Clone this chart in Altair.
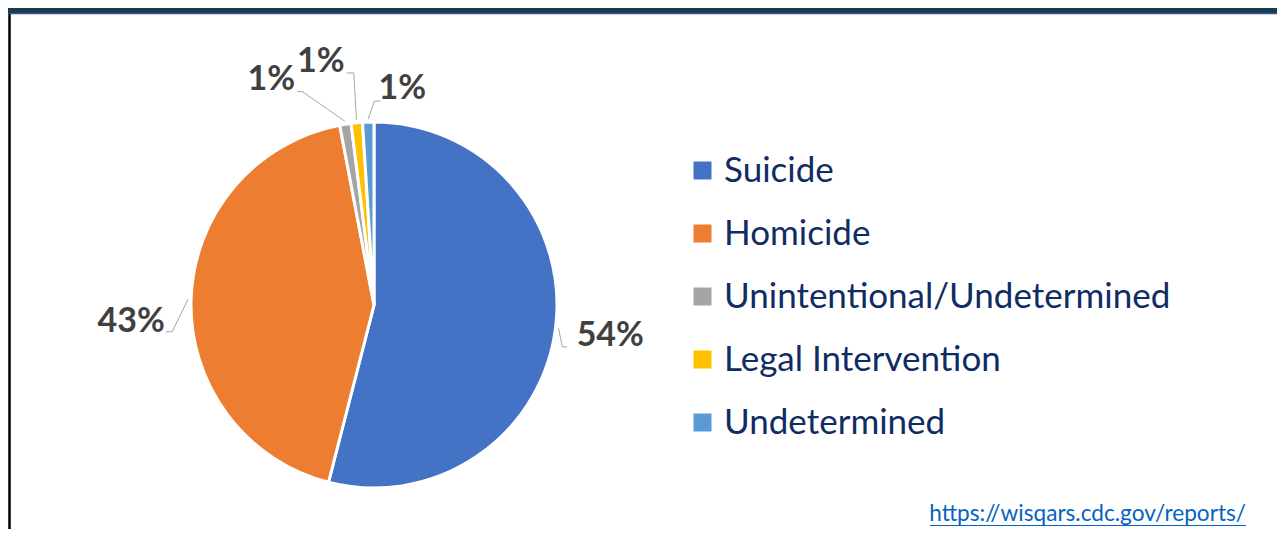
import altair as alt
import pandas as pd
import numpy as np

# ---- data ----
categories = ["Suicide", "Homicide", "Unintentional/Undetermined", "Legal Intervention", "Undetermined"]
values = [54, 43, 1, 1, 1]
labels = ["54%", "43%", "1%", "1%", "1%"]
colors = ["#4472C4", "#ED7D31", "#A5A5A5", "#FFC000", "#5B9BD5"]
source_url = ["https://wisqars.cdc.gov/reports/"]

# ---- layout ----
W, H = 1269, 521
CX, CY = 366, 297
R = 183
LABEL_R = 215
label_offsets = [(23, 4), (-28, 24), (-69, -13), (-33, -29), (35, -1)]
leader_offsets = [[(-48, 11), (-43, 11)], [(41, 9.5), (35, 9.5)],
                  [(31, 12), (26, 12)], [(33, 11), (26, 11)], [(-28, 12), (-22, 12)]]

df = pd.DataFrame({"category": categories, "value": values, "label": labels, "idx": list(range(len(values)))})
total = float(sum(values))
theta_scale = alt.Scale(domain=[0, total])

# leader lines, from the slice mid-angles
rows = []
cum = np.cumsum(values)
for i, cat in enumerate(categories):
    mid = cum[i] - values[i] / 2.0
    a = 2 * np.pi * mid / total
    sx, sy = CX + (R + 3) * np.sin(a), CY - (R + 3) * np.cos(a)
    ax_, ay_ = CX + LABEL_R * np.sin(a) + label_offsets[i][0], CY - LABEL_R * np.cos(a) + label_offsets[i][1]
    pts = [(sx, sy)] + [(ax_ + ox, ay_ + oy) for ox, oy in leader_offsets[i]]
    for s, (px, py) in enumerate(pts):
        rows.append({"category": cat, "seq": s, "px": px, "py": py})
lead_df = pd.DataFrame(rows)

arc = alt.Chart(df).mark_arc(outerRadius=R, stroke="white", strokeWidth=3).encode(
    theta=alt.Theta("value:Q", stack=True, scale=theta_scale),
    order=alt.Order("idx:Q"),
    color=alt.Color(
        "category:N",
        scale=alt.Scale(domain=categories, range=colors),
        legend=alt.Legend(
            title=None, orient="none", legendX=677, legendY=145,
            symbolType="square", symbolSize=324, symbolStrokeWidth=0, symbolOpacity=1,
            labelFont="Lato", labelFontSize=35, labelColor="#0F2C63",
            rowPadding=27, labelOffset=4, padding=0, labelLimit=800,
        ),
    ),
    x=alt.value(CX), y=alt.value(CY),
)

leaders = alt.Chart(lead_df).mark_line(color="#A6A6A6", strokeWidth=1).encode(
    x=alt.X("px:Q", scale=None, axis=None),
    y=alt.Y("py:Q", scale=None, axis=None),
    detail="category:N",
    order="seq:Q",
)

text_layers = []
for i in range(len(values)):
    t = alt.Chart(df).transform_window(
        cum="sum(value)", sort=[alt.SortField("idx")]
    ).transform_calculate(
        mid="datum.cum - datum.value / 2"
    ).transform_filter(
        alt.datum.idx == i
    ).mark_text(
        radius=LABEL_R, dx=label_offsets[i][0], dy=label_offsets[i][1],
        font="Lato", fontSize=34, fontWeight="bold", color="#404040",
        align="center", baseline="middle",
    ).encode(
        theta=alt.Theta("mid:Q", stack=False, scale=theta_scale),
        text="label:N",
        x=alt.value(CX), y=alt.value(CY),
    )
    text_layers.append(t)

url_df = pd.DataFrame({"url": source_url})
url_text = alt.Chart(url_df).mark_text(
    font="Lato", fontSize=22.6, color="#0563C1", align="right", baseline="alphabetic"
).encode(text="url:N", x=alt.value(1238), y=alt.value(513))
url_line = alt.Chart(url_df).mark_rule(color="#0563C1", strokeWidth=1).encode(
    x=alt.value(922), x2=alt.value(1238), y=alt.value(517.5)
)

header = alt.Chart(url_df).mark_rect(color="#1A3B4B").encode(
    x=alt.value(0), x2=alt.value(W), y=alt.value(0), y2=alt.value(5)
)
header_line = alt.Chart(url_df).mark_rule(color="#2F5597", strokeWidth=1.5).encode(
    x=alt.value(0), x2=alt.value(W), y=alt.value(5.5)
)
left_border = alt.Chart(url_df).mark_rule(color="#000000", strokeWidth=2.5).encode(
    x=alt.value(1.5), y=alt.value(6), y2=alt.value(H)
)

chart = alt.layer(
    header, header_line, left_border, arc, leaders, *text_layers, url_text, url_line
).properties(
    width=W, height=H, padding=0, autosize="none"
).configure_view(stroke=None)

chart.save("out.html", embed_options={"renderer": "svg", "actions": False})
